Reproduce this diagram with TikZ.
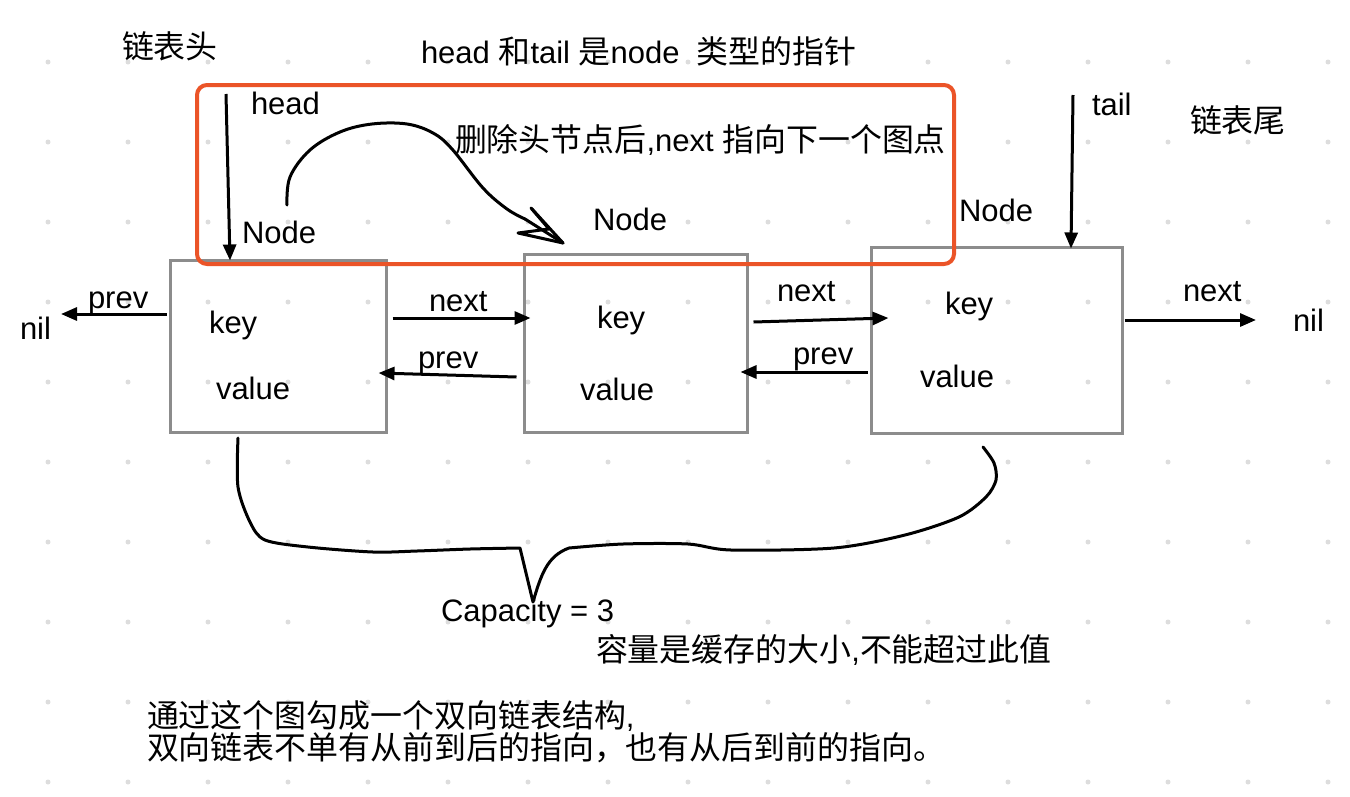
\documentclass[tikz,border=0pt]{standalone}
\usepackage{fontspec}
\setmainfont{Liberation Sans}
\newfontfamily\cjk[Scale=1.03]{Noto Sans CJK SC}
\usetikzlibrary{arrows.meta,calc}
\definecolor{framered}{HTML}{EB5428}
\definecolor{boxgray}{HTML}{8C8C8C}
\definecolor{dotgray}{HTML}{DDDDDD}
\begin{document}
\begin{tikzpicture}[x=1pt,y=-1pt,
  txt/.style={inner sep=0pt, outer sep=0pt, anchor=base west, font=\fontsize{31}{37}\selectfont},
  cell/.style={draw=boxgray, line width=3pt, inner sep=0pt},
  arr/.style={line width=3pt, -{Triangle[length=16pt,width=13pt]}},
  hand/.style={line width=3pt, line cap=round, line join=round},
]
\useasboundingbox (0,0) rectangle (1350,796);
\fill[white] (0,0) rectangle (1350,796);
\foreach \i in {0,...,16} \foreach \j in {0,...,9} \fill[dotgray] (48+80*\i, 62+80*\j) circle[radius=2.5pt];

% boxes
\node[cell, minimum width=216pt, minimum height=172pt] (b1) at (278,346) {};
\node[cell, minimum width=223pt, minimum height=178pt] (b2) at (635.5,343) {};
\node[cell, minimum width=251pt, minimum height=186pt] (b3) at (996.5,340) {};

% texts
\node[txt] (t1) at (122,58) {\cjk 链表头};
\node[txt] (title) at (421,63) {head {\cjk 和}tail {\cjk 是}node\ \ {\cjk 类型的指针}};
\node[txt] (headlbl) at (251,114) {head};
\node[txt] (node1) at (242,243) {Node};
\node[txt] (del) at (455,151) {{\cjk 删除头节点后},next {\cjk 指向下一个图点}};
\node[txt] (node2) at (593,230) {Node};
\node[txt] (node3) at (959,221) {Node};
\node[txt] (taillbl) at (1092,115) {tail};
\node[txt] (t2) at (1190,132) {\cjk 链表尾};
\node[txt] (prev0) at (88,308) {prev};
\node[txt] (nilL) at (20,339) {nil};
\node[txt] (key1) at (209,333) {key};
\node[txt] (value1) at (216,399) {value};
\node[txt] (next12) at (429,311) {next};
\node[txt] (prev21) at (418,368) {prev};
\node[txt] (key2) at (597,328) {key};
\node[txt] (value2) at (580,400) {value};
\node[txt] (next23) at (777,301) {next};
\node[txt] (prev32) at (793,364) {prev};
\node[txt] (key3) at (945,314) {key};
\node[txt] (value3) at (920,387) {value};
\node[txt] (nextout) at (1183,301) {next};
\node[txt] (nilR) at (1293,331) {nil};
\node[txt] (cap) at (441,621) {Capacity = 3};
\node[txt] (capcn) at (596,661) {{\cjk 容量是缓存的大小},{\cjk 不能超过此值}};
\node[txt, align=left, font=\fontsize{31}{28}\selectfont] (bot) at (147,759) {{\cjk 通过这个图勾成一个双向链表结构},\\{\cjk 双向链表不单有从前到后的指向，也有从后到前的指向。}};

% free ends
\coordinate (pL) at (61,314);
\coordinate (pR) at (1256,320);
\coordinate (hT) at (226,94);
\coordinate (tT) at (1073,95);

% arrows
\draw[arr] ($(b1.west)+(-2,-32)$) -- (pL);
\draw[arr] ($(b1.east)+(5,-28)$) -- ($(b2.west)+(8,-25)$);
\draw[arr] ($(b2.west)+(-6,34)$) -- ($(b1.east)+(-9,27)$);
\draw[arr] ($(b2.east)+(5,-21)$) -- ($(b3.west)+(19,-22)$);
\draw[arr] ($(b3.west)+(-2,32)$) -- ($(b2.east)+(-8,29)$);
\draw[arr] ($(b3.east)+(1,-20)$) -- (pR);
\draw[arr] (hT) -- ($(b1.north)+(-48,2)$);
\draw[arr] (tT) -- ($(b3.north)+(74.5,3)$);

% hand-drawn arc with open head
\draw[hand] plot[smooth, tension=0.6] coordinates {(287,205) (290,177) (310,150) (340,132) (372,124) (407,124) (433,133) (452,149) (483,188) (507,209) (525,219)};
\draw[hand] (525,219) -- (563,243);
\draw[hand] (531,208) -- (549,229) -- (518,233) -- (563,243);
\draw[hand] (532,209) -- (563,243);

% brace
\draw[hand] plot[smooth, tension=0.5] coordinates {(238,438) (238,487) (250,522) (265,540) (308,547) (373,552) (417,551) (470,549) (520,548)}
  -- (533,602) .. controls (541,575) and (547,556) .. (569,548)
  -- plot[smooth, tension=0.5] coordinates {(569,548) (623,544) (688,544) (731,550) (834,548) (905,535) (959,517) (986,497) (996,480) (994,463) (983,447)};

% red frame
\node[draw=framered, line width=4pt, rounded corners=10pt, minimum width=757pt, minimum height=179pt, inner sep=0pt] (frame) at (575.5,174.5) {};
\end{tikzpicture}
\end{document}
